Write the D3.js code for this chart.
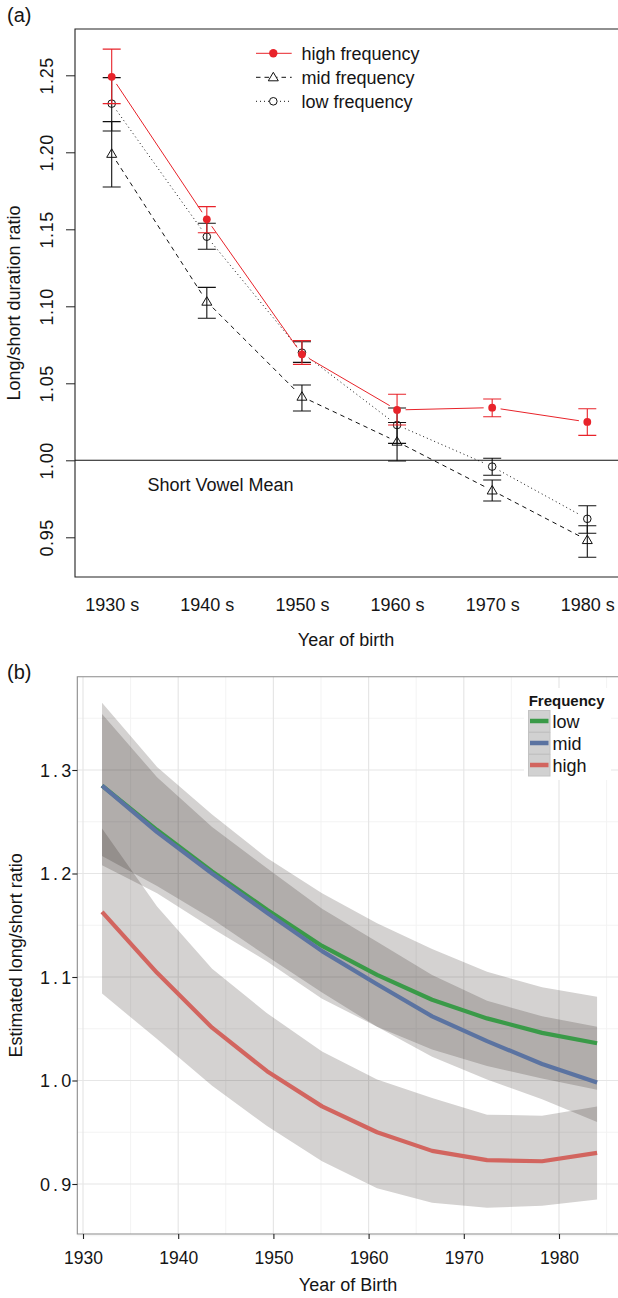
<!DOCTYPE html>
<html><head><meta charset="utf-8">
<script src="https://cdn.jsdelivr.net/npm/d3@7"></script>
<style>
body{margin:0;background:#fff}
svg{display:block;font-family:"Liberation Sans",Arial,Helvetica,sans-serif}
</style>
</head><body>
<svg id="c" width="618" height="1298"></svg>
<script>
// ---------- Panel (a) data ----------
const decades = ["1930 s","1940 s","1950 s","1960 s","1970 s","1980 s"];
const highMean = [1.249, 1.1565, 1.0688, 1.0327, 1.0342, 1.0249];
const highUp   = [1.267, 1.1647, 1.0777, 1.0429, 1.0398, 1.0335];
const highLo   = [1.2316, 1.1478, 1.0623, 1.0229, 1.0283, 1.0162];
const midMean  = [1.199, 1.103, 1.0413, 1.0121, 0.9804, 0.9482];
const midUp    = [1.2199, 1.1123, 1.0489, 1.0245, 0.9872, 0.9575];
const midLo    = [1.1775, 1.0922, 1.032, 0.9995, 0.9736, 0.937];
const lowMean  = [1.2316, 1.1452, 1.0699, 1.0229, 0.9959, 0.962];
const lowUp    = [1.2485, 1.1539, 1.077, 1.034, 1.0013, 0.9705];
const lowLo    = [1.2138, 1.137, 1.0636, 1.011, 0.9903, 0.9526];
const aYTicks  = [0.95, 1.00, 1.05, 1.10, 1.15, 1.20, 1.25];
const aLegend  = ["high frequency","mid frequency","low frequency"];

// ---------- Panel (b) data ----------
const years     = [1932, 1937.78, 1943.56, 1949.33, 1955.11, 1960.89, 1966.67, 1972.44, 1978.22, 1984];
const lowFit    = [1.285, 1.242, 1.202, 1.165, 1.130, 1.102, 1.078, 1.060, 1.046, 1.036];
const lowUpper  = [1.365, 1.303, 1.257, 1.215, 1.181, 1.152, 1.127, 1.105, 1.090, 1.081];
const lowLower  = [1.208, 1.181, 1.147, 1.115, 1.079, 1.052, 1.030, 1.014, 1.002, 0.991];
const midFit    = [1.285, 1.240, 1.200, 1.162, 1.125, 1.093, 1.062, 1.038, 1.016, 0.998];
const midUpper  = [1.354, 1.293, 1.245, 1.205, 1.166, 1.134, 1.102, 1.077, 1.062, 1.052];
const midLower  = [1.217, 1.188, 1.156, 1.120, 1.085, 1.052, 1.023, 1.001, 0.982, 0.960];
const highFit   = [1.163, 1.104, 1.051, 1.009, 0.975, 0.950, 0.932, 0.923, 0.922, 0.930];
const highUpper = [1.2435, 1.168, 1.108, 1.065, 1.028, 1.001, 0.983, 0.967, 0.966, 0.975];
const highLower = [1.084, 1.040, 0.995, 0.956, 0.922, 0.896, 0.882, 0.877, 0.879, 0.885];
const bXTicks   = [1930, 1940, 1950, 1960, 1970, 1980];
const bXMinor   = [1935, 1945, 1955, 1965, 1975, 1985];
const bYTicks   = [0.9, 1.0, 1.1, 1.2, 1.3];
const bYMinor   = [0.85, 0.95, 1.05, 1.15, 1.25, 1.35];
const bLegend   = ["low","mid","high"];

const svg = d3.select("#c");
const TXT = "#151515";

// ================= PANEL (a) =================
const A = {l:75, t:29, r:620, b:577};
const xA = d3.scaleLinear().domain([1, 6]).range([111.7, 587.3]);
const yA = d3.scaleLinear().domain([0.95, 1.25]).range([537.3, 75.3]);
const gA = svg.append("g");

gA.append("text").attr("x", 7).attr("y", 21.5).attr("font-size", 20).attr("fill", TXT).text("(a)");

// box
gA.append("path").attr("d", `M${A.r},${A.t}H${A.l}V${A.b}H${A.r}`)
  .attr("fill","none").attr("stroke","#222").attr("stroke-width",1.1);

// y axis
const yAxA = gA.append("g").attr("transform", `translate(${A.l},0)`)
  .call(d3.axisLeft(yA).tickValues(aYTicks).tickFormat(d3.format(".2f")).tickSize(9));
yAxA.select(".domain").remove();
yAxA.selectAll("line").attr("stroke","#222");
yAxA.selectAll("text").attr("x", null).attr("dy", null).attr("fill", TXT)
  .attr("font-size", 18).attr("font-family", null).attr("letter-spacing", 0.6)
  .attr("text-anchor","middle").attr("transform","translate(-22,0) rotate(-90)");

// x axis labels (no ticks)
const xAxA = gA.append("g").attr("transform", `translate(0,${A.b})`)
  .call(d3.axisBottom(xA).tickValues([1,2,3,4,5,6]).tickFormat(i => decades[i-1]).tickSize(0));
xAxA.select(".domain").remove();
xAxA.selectAll("text").attr("y", 34).attr("dy", null).attr("fill", TXT)
  .attr("font-size", 18).attr("font-family", null);

gA.append("text").attr("x", (A.l + 617)/2).attr("y", 646).attr("text-anchor","middle")
  .attr("font-size", 18).attr("fill", TXT).text("Year of birth");
gA.append("text").attr("transform", `translate(20,${(A.t+A.b)/2}) rotate(-90)`)
  .attr("text-anchor","middle").attr("font-size", 18).attr("fill", TXT).text("Long/short duration ratio");

// reference line
gA.append("line").attr("x1", A.l).attr("x2", A.r).attr("y1", yA(1)).attr("y2", yA(1))
  .attr("stroke","#111").attr("stroke-width",1.1);
gA.append("text").attr("x", 147.5).attr("y", 491).attr("font-size", 18).attr("fill", TXT).text("Short Vowel Mean");

const RED = "#e8232a";
const seriesA = [
  {mean: lowMean, up: lowUp, lo: lowLo, color: "#111", dash: "1,3", sym: "circle"},
  {mean: midMean, up: midUp, lo: midLo, color: "#111", dash: "4.5,4", sym: "triangle"},
  {mean: highMean, up: highUp, lo: highLo, color: RED, dash: null, sym: "dot"}
];
const triPath = "M0,-5L5,3.5L-5,3.5Z";

function drawSym(g, s, cx, cy) {
  if (s.sym === "dot") g.append("circle").attr("cx",cx).attr("cy",cy).attr("r",3.9).attr("fill",RED);
  else if (s.sym === "circle") g.append("circle").attr("cx",cx).attr("cy",cy).attr("r",3.8)
      .attr("fill","none").attr("stroke","#111").attr("stroke-width",1);
  else g.append("path").attr("d", triPath).attr("transform",`translate(${cx},${cy})`)
      .attr("fill","none").attr("stroke","#111").attr("stroke-width",1);
}

seriesA.forEach(s => {
  const pts = s.mean.map((v,i) => [xA(i+1), yA(v)]);
  // type "b": segments with gaps around points
  for (let i = 0; i < pts.length - 1; i++) {
    const [x1,y1] = pts[i], [x2,y2] = pts[i+1];
    const L = Math.hypot(x2-x1, y2-y1), gap = 8.5;
    const ux = (x2-x1)/L, uy = (y2-y1)/L;
    const ln = gA.append("line").attr("x1", x1+ux*gap).attr("y1", y1+uy*gap)
      .attr("x2", x2-ux*gap).attr("y2", y2-uy*gap)
      .attr("stroke", s.color).attr("stroke-width", 1);
    if (s.dash) ln.attr("stroke-dasharray", s.dash);
  }
  // error bars
  s.mean.forEach((v,i) => {
    const cx = xA(i+1), yu = yA(s.up[i]), yl = yA(s.lo[i]);
    gA.append("path").attr("d", `M${cx},${yu}V${yl}M${cx-9},${yu}H${cx+9}M${cx-9},${yl}H${cx+9}`)
      .attr("fill","none").attr("stroke", s.color).attr("stroke-width", 1.1);
  });
  pts.forEach(([cx,cy]) => drawSym(gA, s, cx, cy));
});

// legend (a)
const legA = [
  {label: aLegend[0], s: seriesA[2]},
  {label: aLegend[1], s: seriesA[1]},
  {label: aLegend[2], s: seriesA[0]}
];
legA.forEach((d,i) => {
  const y = 53.3 + i*24;
  const ln = gA.append("line").attr("x1",256).attr("x2",291.7).attr("y1",y).attr("y2",y)
    .attr("stroke", d.s.color).attr("stroke-width",1);
  if (d.s.dash) ln.attr("stroke-dasharray", d.s.dash);
  if (d.s.sym === "circle") gA.append("circle").attr("cx",273.3).attr("cy",y).attr("r",3.8)
      .attr("fill","#fff").attr("stroke","#111");
  else if (d.s.sym === "triangle") gA.append("path").attr("d",triPath).attr("transform",`translate(273.3,${y})`)
      .attr("fill","#fff").attr("stroke","#111");
  else gA.append("circle").attr("cx",273.3).attr("cy",y).attr("r",4.2).attr("fill",RED);
  gA.append("text").attr("x",301.5).attr("y",y+6.3).attr("font-size",18).attr("fill",TXT).text(d.label);
});

// ================= PANEL (b) =================
const B = {l:77.3, t:676.7, r:625, b:1234};
const xB = d3.scaleLinear().domain([1930, 1980]).range([83, 559]);
const yB = d3.scaleLinear().domain([0.9, 1.3]).range([1184, 770]);
const gB = svg.append("g");

gB.append("text").attr("x", 7).attr("y", 679).attr("font-size", 20).attr("fill", TXT).text("(b)");

// grid
gB.selectAll(".vmin").data(bXMinor).join("line")
  .attr("x1", d=>xB(d)).attr("x2", d=>xB(d)).attr("y1", B.t).attr("y2", B.b)
  .attr("stroke","#f2f2f2").attr("stroke-width",0.9);
gB.selectAll(".hmin").data(bYMinor).join("line")
  .attr("y1", d=>yB(d)).attr("y2", d=>yB(d)).attr("x1", B.l).attr("x2", B.r)
  .attr("stroke","#f2f2f2").attr("stroke-width",0.9);
gB.selectAll(".vmaj").data(bXTicks).join("line")
  .attr("x1", d=>xB(d)).attr("x2", d=>xB(d)).attr("y1", B.t).attr("y2", B.b)
  .attr("stroke","#e6e6e6").attr("stroke-width",1.2);
gB.selectAll(".hmaj").data(bYTicks).join("line")
  .attr("y1", d=>yB(d)).attr("y2", d=>yB(d)).attr("x1", B.l).attr("x2", B.r)
  .attr("stroke","#e6e6e6").attr("stroke-width",1.2);

const seriesB = [
  {fit: lowFit, up: lowUpper, lo: lowLower, color: "#3a9a48"},
  {fit: midFit, up: midUpper, lo: midLower, color: "#5b73a1"},
  {fit: highFit, up: highUpper, lo: highLower, color: "#d2655f"}
];
const area = d3.area().x((d,i)=>xB(years[i])).y0(d=>yB(d[0])).y1(d=>yB(d[1]));
const line = d3.line().x((d,i)=>xB(years[i])).y(d=>yB(d));

seriesB.forEach(s => {
  gB.append("path").datum(s.lo.map((v,i)=>[v, s.up[i]])).attr("d", area)
    .attr("fill","rgb(22,12,6)").attr("fill-opacity",0.185);
});
seriesB.forEach(s => {
  gB.append("path").datum(s.fit).attr("d", line).attr("fill","none")
    .attr("stroke", s.color).attr("stroke-width", 4.2).attr("stroke-linejoin","round");
});

// border
gB.append("path").attr("d", `M${B.r},${B.t}H${B.l}V${B.b}H${B.r}`)
  .attr("fill","none").attr("stroke","#8a8a8a").attr("stroke-width",1.1);

// axes
const yAxB = gB.append("g").attr("transform", `translate(${B.l},0)`)
  .call(d3.axisLeft(yB).tickValues(bYTicks).tickFormat(d3.format(".1f")).tickSize(5).tickPadding(1));
yAxB.select(".domain").remove();
yAxB.selectAll("line").attr("stroke","#222").attr("stroke-width",1.1);
yAxB.selectAll("text").attr("fill", TXT).attr("font-size", 18).attr("font-family", null)
  .attr("letter-spacing", 3.2).attr("dx", 3.2).attr("dy","0.36em");

const xAxB = gB.append("g").attr("transform", `translate(0,${B.b})`)
  .call(d3.axisBottom(xB).tickValues(bXTicks).tickFormat(d3.format("d")).tickSize(5));
xAxB.select(".domain").remove();
xAxB.selectAll("line").attr("stroke","#222").attr("stroke-width",1.1);
xAxB.selectAll("text").attr("y", 30).attr("dy", null).attr("fill", TXT).attr("font-size", 17.5).attr("font-family", null);

gB.append("text").attr("x", 348).attr("y", 1291).attr("text-anchor","middle")
  .attr("font-size", 18).attr("fill", TXT).text("Year of Birth");
gB.append("text").attr("transform", `translate(21.5,${(B.t+B.b)/2}) rotate(-90)`)
  .attr("text-anchor","middle").attr("font-size", 18).attr("fill", TXT).text("Estimated long/short ratio");

// legend (b)
gB.append("rect").attr("x",524).attr("y",688).attr("width",87).attr("height",92).attr("fill","#fff");
gB.append("text").attr("x",528.7).attr("y",705.5).attr("font-size",15).attr("font-weight","bold")
  .attr("fill", TXT).text("Frequency");
bLegend.forEach((lab,i) => {
  const y0 = 710 + i*22;
  gB.append("rect").attr("x",528.5).attr("y",y0+0.5).attr("width",21.5).attr("height",21.5)
    .attr("fill","#d1d1d1").attr("stroke","#c2c2c2").attr("stroke-width",1);
  gB.append("line").attr("x1",530).attr("x2",548.5).attr("y1",y0+11).attr("y2",y0+11)
    .attr("stroke", seriesB[i].color).attr("stroke-width",4.5);
  gB.append("text").attr("x",552.5).attr("y",y0+17.5).attr("font-size",18).attr("fill",TXT).text(lab);
});
</script>
</body></html>
